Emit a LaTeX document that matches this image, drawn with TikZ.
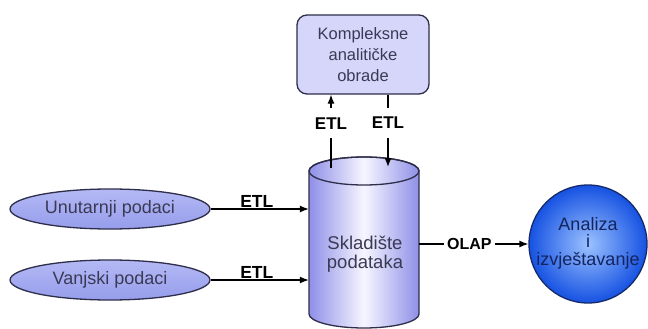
\documentclass[tikz,border=0pt]{standalone}
\usepackage{fontspec}
\setmainfont{Liberation Sans}
\usetikzlibrary{arrows.meta,shapes.geometric}
\definecolor{edge}{HTML}{2E2E4A}
\definecolor{txt}{HTML}{3A3A55}
\definecolor{boxfill}{HTML}{D6D6FB}
\definecolor{elltop}{HTML}{B4B9F5}
\definecolor{ellbot}{HTML}{969DEB}
\definecolor{cyl}{HTML}{8F8FE8}
\definecolor{cylmid}{HTML}{F6F6FF}
\definecolor{circin}{HTML}{9CC2FF}
\definecolor{circout}{HTML}{1652E2}
\definecolor{circedge}{HTML}{152A6A}
\definecolor{circtxt}{HTML}{13245E}
\begin{document}
\begin{tikzpicture}[x=1pt,y=-1pt,
  every node/.style={font=\fontsize{18}{20}\selectfont},
  src/.style={ellipse, draw=edge, line width=1.3pt, top color=elltop, bottom color=ellbot,
    minimum width=200pt, minimum height=40pt, inner sep=0pt, text=txt},
  kbox/.style={rectangle, rounded corners=10pt, draw=edge, line width=1.3pt, fill=boxfill,
    minimum width=132pt, minimum height=79pt, align=center, text=txt, inner sep=0pt,
    font=\fontsize{16.5}{21}\selectfont},
  circ/.style={circle, draw=circedge, line width=1.3pt, inner color=circin, outer color=circout,
    minimum size=118pt, inner sep=0pt},
  arr/.style={-{Latex[length=9pt,width=7pt]}, line width=1.3pt, black},
  hlbl/.style={font=\bfseries\fontsize{17.5}{18}\selectfont, inner sep=1pt},
  olbl/.style={font=\bfseries\fontsize{16}{18}\selectfont, fill=white, inner xsep=3pt, inner ysep=2pt},
  vlbl/.style={font=\bfseries\fontsize{17}{18}\selectfont, fill=white, inner xsep=2pt, inner ysep=9pt}
]
\useasboundingbox (0,0) rectangle (648,329);
\fill[white] (0,0) rectangle (648,329);

% cylinder
\shade[left color=cyl, right color=cyl, middle color=cylmid]
  (309,171) -- (309,314) arc[start angle=180, end angle=0, x radius=55, y radius=14]
  -- (419,171) arc[start angle=0, end angle=-180, x radius=55, y radius=14] -- cycle;
\draw[edge, line width=1.3pt]
  (309,171) -- (309,314) arc[start angle=180, end angle=0, x radius=55, y radius=14]
  -- (419,171) arc[start angle=0, end angle=-180, x radius=55, y radius=14] -- cycle;
\draw[edge, line width=1.3pt] (364,171) ellipse[x radius=55, y radius=14];
\node[minimum width=110pt, minimum height=171pt, inner sep=0pt] (dw) at (364,242.5) {};
\node[align=center, text=txt, font=\fontsize{18.5}{19}\selectfont] (dwt) at (365,254) {Skladište\\podataka};

% nodes
\node[kbox] (k) at (363,54.5) {Kompleksne\\analitičke\\obrade};
\node[src] (u) at (110,209) {Unutarnji podaci};
\node[src] (v) at (110,280) {Vanjski podaci};
\node[circ] (a) at (588,244) {};
\node[align=center, text=circtxt, font=\fontsize{18}{17.5}\selectfont] (at) at (588,243) {Analiza\\i\\izvještavanje};

% connectors
\draw[arr] (u.east) -- (u.east -| dw.west) node[pos=0.47, above, hlbl] {ETL};
\draw[arr] (v.east) -- (v.east -| dw.west) node[pos=0.47, above, hlbl] {ETL};
\draw[arr] (dw.east |- a.west) -- (a.west) node[pos=0.46, olbl] {OLAP};
\coordinate (t1) at (331,168);
\coordinate (t2) at (388,167);
\draw[arr] (t1) -- (t1 |- k.south) node[pos=0.61, vlbl] {ETL};
\draw[arr] (t2 |- k.south) -- (t2) node[pos=0.39, vlbl] {ETL};
\end{tikzpicture}
\end{document}
